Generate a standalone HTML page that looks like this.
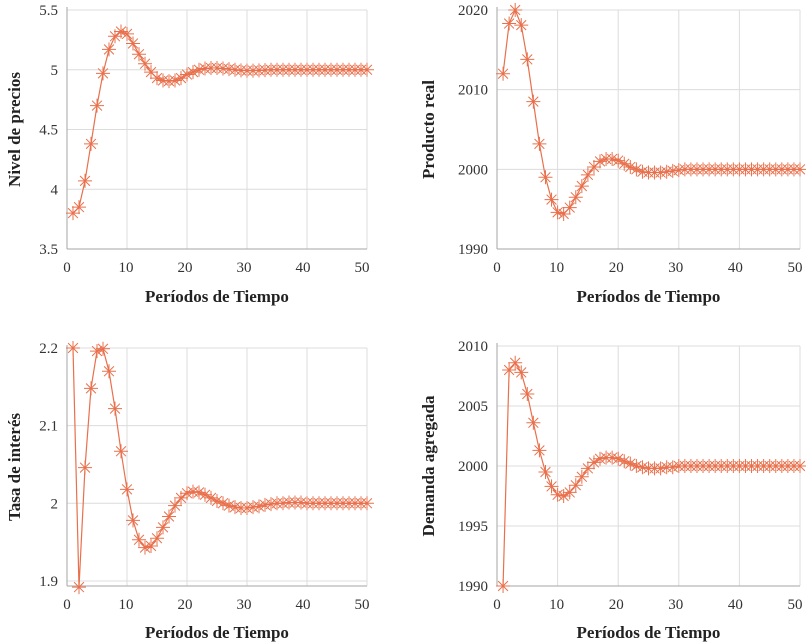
<!DOCTYPE html>
<html><head><meta charset="utf-8">
<style>
body{margin:0;background:#fff;}
svg{display:block;}
svg text{font-family:"Liberation Serif","Times New Roman",serif;}
.tick{font-size:15px;fill:#333;}
.ttl{font-size:17px;font-weight:bold;fill:#222;}
</style></head>
<body>
<svg id="c" width="806" height="644"></svg>
<script>
const periods = [1,2,3,4,5,6,7,8,9,10,11,12,13,14,15,16,17,18,19,20,21,22,23,24,25,26,27,28,29,30,31,32,33,34,35,36,37,38,39,40,41,42,43,44,45,46,47,48,49,50];
const xTicks = [0,10,20,30,40,50];
const priceValues = [3.8,3.85,4.07,4.38,4.7,4.97,5.17,5.28,5.32,5.3,5.22,5.13,5.05,4.98,4.93,4.91,4.905,4.91,4.93,4.96,4.98,5.0,5.01,5.015,5.015,5.01,5.005,5.0,4.995,4.993,4.993,4.995,4.997,5.0,5.0,5.0,5.0,5.0,5.0,5.0,5.0,5.0,5.0,5.0,5.0,5.0,5.0,5.0,5.0,5.0];
const priceTicks = [3.5,4,4.5,5,5.5];
const outputValues = [2012,2018.3,2020,2018.1,2013.8,2008.5,2003.2,1999,1996.2,1994.6,1994.4,1995.2,1996.5,1997.9,1999.3,2000.3,2001,2001.3,2001.3,2001.1,2000.7,2000.3,2000,1999.7,1999.6,1999.6,1999.6,1999.7,1999.8,1999.9,2000,2000,2000,2000,2000,2000,2000,2000,2000,2000,2000,2000,2000,2000,2000,2000,2000,2000,2000,2000];
const outputTicks = [1990,2000,2010,2020];
const rateValues = [2.2,1.892,2.046,2.148,2.196,2.199,2.17,2.122,2.067,2.018,1.978,1.953,1.943,1.945,1.955,1.969,1.983,1.997,2.007,2.013,2.015,2.014,2.011,2.007,2.003,2.0,1.997,1.995,1.994,1.994,1.995,1.996,1.998,1.999,2.0,2.0,2.001,2.001,2.001,2.0,2.0,2.0,2.0,2.0,2.0,2.0,2.0,2.0,2.0,2.0];
const rateTicks = [1.9,2,2.1,2.2];
const demandValues = [1990,2008,2008.6,2007.8,2006,2003.6,2001.3,1999.5,1998.3,1997.6,1997.5,1997.8,1998.4,1999.1,1999.8,2000.3,2000.6,2000.7,2000.7,2000.6,2000.4,2000.2,2000,1999.9,1999.8,1999.8,1999.8,1999.9,1999.9,2000,2000,2000,2000,2000,2000,2000,2000,2000,2000,2000,2000,2000,2000,2000,2000,2000,2000,2000,2000,2000];
const demandTicks = [1990,1995,2000,2005,2010];

const NS="http://www.w3.org/2000/svg";
const svg=document.getElementById('c');
function mk(tag,attrs,parent){const e=document.createElementNS(NS,tag);for(const k in attrs)e.setAttribute(k,attrs[k]);(parent||svg).appendChild(e);return e;}
const COL="#e8704c";
const FONT='"Liberation Serif", serif';
function panel(id,L,R,T,B,ymin,ymax,vals,ticks,title,titleX,xTitleY){
  const g=mk('g',{});
  
  
  const xs=v=>L+(v/50)*(R-L);
  const ys=v=>B-(v-ymin)/(ymax-ymin)*(B-T);
  xTicks.forEach(t=>{
    if(t>0){const l=mk('line',{x1:xs(t),x2:xs(t),y1:T,y2:B,stroke:'#dcdcdc','stroke-width':1},g);
    
    }
    const tx=mk('text',{x:xs(t)-t/50*5,y:B+23,'text-anchor':'middle',class:'tick','font-family':FONT},g);
    tx.textContent=t;
    
    
  });
  ticks.forEach(t=>{
    const l=mk('line',{x1:L,x2:R,y1:ys(t),y2:ys(t),stroke:'#dcdcdc','stroke-width':1},g);
    
    
    const tx=mk('text',{x:L-9,y:ys(t)+5,'text-anchor':'end',class:'tick','font-family':FONT},g);
    tx.textContent=t;
    
    
  });
  const ax=mk('line',{x1:L,x2:L,y1:T-3,y2:B,stroke:'#a6a6a6'},g);
  
  
  const bx=mk('line',{x1:L,x2:R,y1:B,y2:B,stroke:'#a6a6a6'},g);
  
  
  const pts=periods.map((p,i)=>[xs(p),ys(vals[i])]);
  const pl=mk('polyline',{points:pts.map(p=>p.join(',')).join(' '),fill:'none',stroke:COL,'stroke-width':1.2},g);
  
  
  pts.forEach(([x,y])=>{
    const r=7;
    const d=`M${x-r},${y}H${x+r}M${x},${y-r}V${y+r}M${x-r*0.7},${y-r*0.7}L${x+r*0.7},${y+r*0.7}M${x-r*0.7},${y+r*0.7}L${x+r*0.7},${y-r*0.7}`;
    const m=mk('path',{d:d,stroke:COL,'stroke-width':1,fill:'none'},g);
    
    
  });
  const yt2=mk('text',{x:0,y:0,transform:`translate(${titleX},${(T+B)/2}) rotate(-90)`,'text-anchor':'middle',class:'ttl','font-family':FONT},g);
  yt2.textContent=title;
  
  
  const xt=mk('text',{x:(L+R)/2,y:xTitleY,'text-anchor':'middle',class:'ttl','font-family':FONT},g);
  xt.textContent='Períodos de Tiempo';
  
  
}
panel('price-level-chart',67,367,10,249,3.5,5.5,priceValues,priceTicks,'Nivel de precios',20,302);
panel('real-output-chart',497,800,10,249,1990,2020,outputValues,outputTicks,'Producto real',434,302);
panel('interest-rate-chart',67,367,348,586,1.8935,2.2,rateValues,rateTicks,'Tasa de interés',20,638);
panel('aggregate-demand-chart',497,800,346,586,1990,2010,demandValues,demandTicks,'Demanda agregada',434,638);
</script>
</body></html>
